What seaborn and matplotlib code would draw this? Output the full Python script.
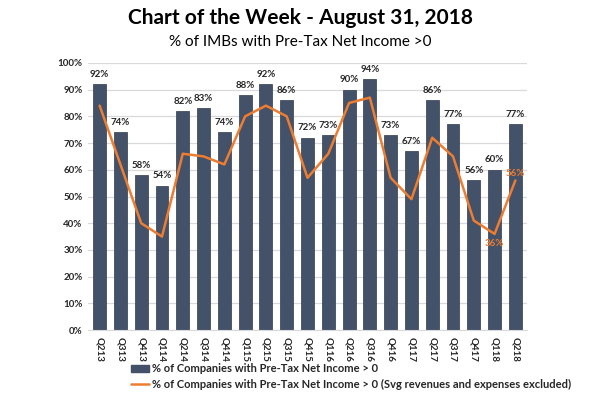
"""Chart of the Week - August 31, 2018: % of IMBs with Pre-Tax Net Income > 0"""
import matplotlib
matplotlib.use("Agg")
import matplotlib.pyplot as plt
from matplotlib.lines import Line2D
from matplotlib.patches import Patch
import pandas as pd
import seaborn as sns

quarters = ["Q213", "Q313", "Q413", "Q114", "Q214", "Q314", "Q414", "Q115", "Q215",
            "Q315", "Q415", "Q116", "Q216", "Q316", "Q416", "Q117", "Q217", "Q317",
            "Q417", "Q118", "Q218"]
pct_all = [92, 74, 58, 54, 82, 83, 74, 88, 92, 86, 72, 73, 90, 94, 73, 67, 86, 77, 56, 60, 77]
pct_excl = [84, 62, 40, 35, 66, 65, 62, 80, 84, 80, 57, 66, 85, 87, 57, 49, 72, 65, 41, 36, 56]

BAR = "#435169"
LINE = "#ED7D31"
TXT = "#262626"

df = pd.DataFrame({"Quarter": quarters, "All": pct_all, "Excl": pct_excl})

sns.set_style("white")
plt.rcParams["font.family"] = ["Lato", "DejaVu Sans"]

fig = plt.figure(figsize=(6, 3.93), dpi=100)
ax = fig.add_axes([0.147, 0.160, 0.731, 0.680])

sns.barplot(data=df, x="Quarter", y="All", color=BAR, width=0.62,
            saturation=1, edgecolor="#2f3b4d", linewidth=0.5, ax=ax, zorder=2)
sns.pointplot(data=df, x="Quarter", y="Excl", color=LINE, markers="",
              linestyles="-", ax=ax, zorder=3)
for ln in ax.lines:
    ln.set_linewidth(1.8)

for i, v in enumerate(pct_all):
    ax.text(i, v + 2, f"{v}%", ha="center", va="bottom", fontsize=7,
            fontweight="bold", color=TXT)

n = len(quarters)
ax.text(n - 2, pct_excl[-2] - 2, f"{pct_excl[-2]}%", ha="center", va="top",
        fontsize=7, fontweight="bold", color=LINE)
ax.text(n - 1, pct_excl[-1] + 1, f"{pct_excl[-1]}%", ha="center", va="bottom",
        fontsize=7, fontweight="bold", color=LINE, zorder=4)

ax.set_ylim(0, 100)
ax.set_xlim(-0.55, n - 0.45)
ax.set_yticks(range(0, 101, 10))
ax.set_yticklabels([f"{t}%" for t in range(0, 101, 10)], fontsize=7,
                   fontweight="bold", color=TXT)
ax.tick_params(axis="x", labelrotation=270, labelsize=7, length=0, pad=5)
for lbl in ax.get_xticklabels():
    lbl.set_fontweight("bold")
    lbl.set_color(TXT)
ax.tick_params(axis="y", length=0, pad=4)
ax.yaxis.grid(True, color="#d9d9d9", linewidth=0.9, zorder=0)
ax.set_axisbelow(True)
for s in ["top", "right", "left"]:
    ax.spines[s].set_visible(False)
ax.spines["bottom"].set_color("#d9d9d9")
ax.set_xlabel("")
ax.set_ylabel("")

fig.text(0.5, 0.955, "Chart of the Week - August 31, 2018", ha="center", va="center",
         fontsize=15, fontweight="bold", color="black")
fig.text(0.5, 0.893, "% of IMBs with Pre-Tax Net Income >0", ha="center", va="center",
         fontsize=11, color="black")

handles = [Patch(facecolor=BAR, edgecolor=BAR),
           Line2D([0], [0], color=LINE, lw=1.8)]
labels = ["% of Companies with Pre-Tax Net Income > 0",
          "% of Companies with Pre-Tax Net Income > 0 (Svg revenues and expenses excluded)"]
fig.legend(handles, labels, loc="lower left", bbox_to_anchor=(0.205, -0.012),
           frameon=False, ncol=1, handlelength=1.6, handletextpad=0.3,
           labelspacing=0.4, prop={"size": 8, "weight": "bold"}, labelcolor=TXT,
           borderpad=0.2)

fig.savefig("out.png", dpi=100)
